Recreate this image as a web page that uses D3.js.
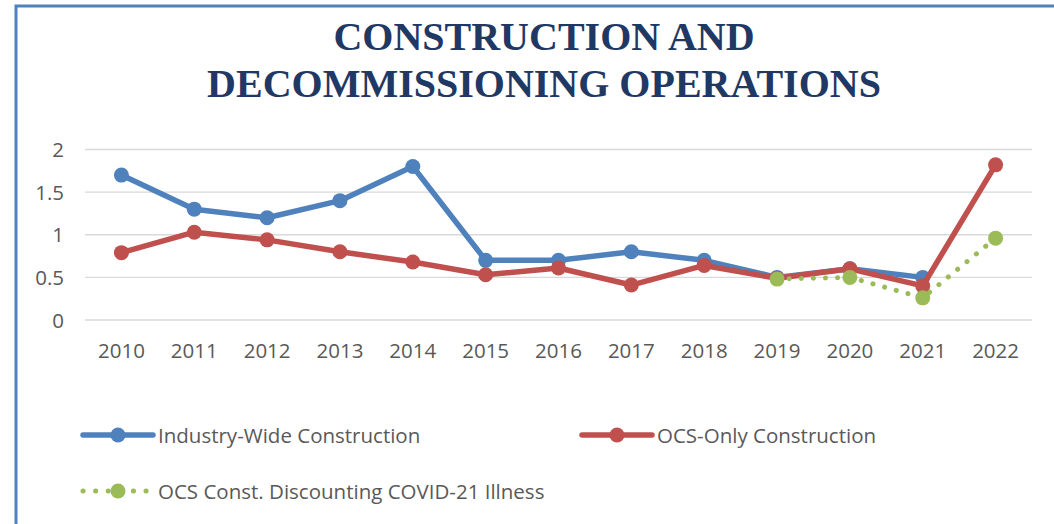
<!DOCTYPE html>
<html>
<head>
<meta charset="utf-8">
<script src="https://d3js.org/d3.v7.min.js"></script>
<style>
  body { margin: 0; background: #fff; }
  svg text { font-family: "Open Sans", "Liberation Sans", Arial, sans-serif; }
</style>
</head>
<body>
<script>
// chart data
var years = ["2010","2011","2012","2013","2014","2015","2016","2017","2018","2019","2020","2021","2022"];
var industryWide = [1.7, 1.3, 1.2, 1.4, 1.8, 0.7, 0.7, 0.8, 0.7, 0.5, 0.6, 0.5, null];
var ocsOnly = [0.79, 1.03, 0.94, 0.8, 0.68, 0.53, 0.61, 0.41, 0.64, 0.49, 0.6, 0.4, 1.82];
var ocsCovid = [null, null, null, null, null, null, null, null, null, 0.48, 0.5, 0.26, 0.96];
var yTicks = [0, 0.5, 1, 1.5, 2];
var titleLines = ["CONSTRUCTION AND", "DECOMMISSIONING OPERATIONS"];

var w = 1054, h = 524;

var svg = d3.select("body").append("svg")
    .attr("width", w)
    .attr("height", h);

// frame
svg.append("path")
    .attr("d", "M16," + h + " V6 H" + w)
    .attr("fill", "none")
    .attr("stroke", "#4F81BD")
    .attr("stroke-width", 3);

// title
svg.selectAll("text.title")
    .data(titleLines)
    .enter().append("text")
    .attr("class", "title")
    .attr("x", 544)
    .attr("y", function(d, i) { return 50 + i * 47; })
    .attr("text-anchor", "middle")
    .style("font-family", "'Liberation Serif', 'Times New Roman', serif")
    .style("font-weight", "bold")
    .style("font-size", "40px")
    .attr("fill", "#1F3864")
    .text(function(d) { return d; });

var x = d3.scaleBand().domain(years).range([85, 1032]);
var y = d3.scaleLinear().domain([0, 2]).range([320, 149.5]);

// gridlines
svg.selectAll("line.grid")
    .data(yTicks)
    .enter().append("line")
    .attr("x1", 85).attr("x2", 1032)
    .attr("y1", function(d) { return y(d); })
    .attr("y2", function(d) { return y(d); })
    .attr("stroke", "#D9D9D9")
    .attr("stroke-width", 1.3);

// y labels
svg.selectAll("text.ylab")
    .data(yTicks)
    .enter().append("text")
    .attr("x", 64)
    .attr("y", function(d) { return y(d) + 7.5; })
    .attr("text-anchor", "end")
    .style("font-size", "20.5px")
    .attr("fill", "#595959")
    .text(function(d) { return d; });

// x labels
svg.selectAll("text.xlab")
    .data(years)
    .enter().append("text")
    .attr("x", function(d) { return x(d) + x.bandwidth() / 2; })
    .attr("y", 358)
    .attr("text-anchor", "middle")
    .style("font-size", "20.5px")
    .attr("fill", "#595959")
    .text(function(d) { return d; });

var series = [
  { name: "Industry-Wide Construction", values: industryWide, color: "#4F81BD", dotted: false },
  { name: "OCS-Only Construction", values: ocsOnly, color: "#C0504D", dotted: false },
  { name: "OCS Const. Discounting COVID-21 Illness", values: ocsCovid, color: "#9BBB59", dotted: true }
];

var line = d3.line()
    .defined(function(d) { return d != null; })
    .x(function(d, i) { return x(years[i]) + x.bandwidth() / 2; })
    .y(function(d) { return y(d); });

series.forEach(function(s) {
  var g = svg.append("g");
  g.append("path")
    .datum(s.values)
    .attr("d", line)
    .attr("fill", "none")
    .attr("stroke", s.color)
    .attr("stroke-width", s.dotted ? 5 : 5.5)
    .attr("stroke-linecap", "round")
    .attr("stroke-linejoin", "round")
    .attr("stroke-dasharray", s.dotted ? "0.1 12" : null);
  g.selectAll("circle")
    .data(s.values.map(function(v, i) { return { v: v, i: i }; }).filter(function(d) { return d.v != null; }))
    .enter().append("circle")
    .attr("cx", function(d) { return x(years[d.i]) + x.bandwidth() / 2; })
    .attr("cy", function(d) { return y(d.v); })
    .attr("r", 7.5)
    .attr("fill", s.color);
});

// legend
var legendPos = [[81, 435], [580, 435], [81, 491]];
series.forEach(function(s, i) {
  var lx = legendPos[i][0], ly = legendPos[i][1];
  var g = svg.append("g");
  g.append("line")
    .attr("x1", lx + 2).attr("x2", lx + 72)
    .attr("y1", ly).attr("y2", ly)
    .attr("stroke", s.color)
    .attr("stroke-width", s.dotted ? 5 : 5.5)
    .attr("stroke-linecap", "round")
    .attr("stroke-dasharray", s.dotted ? "0.1 12.5" : null);
  g.append("circle")
    .attr("cx", lx + 37).attr("cy", ly)
    .attr("r", 7.5)
    .attr("fill", s.color);
  g.append("text")
    .attr("x", lx + 77)
    .attr("y", ly + 7.5)
    .style("font-size", "20.5px")
    .attr("fill", "#595959")
    .text(s.name);
});
</script>
</body>
</html>
